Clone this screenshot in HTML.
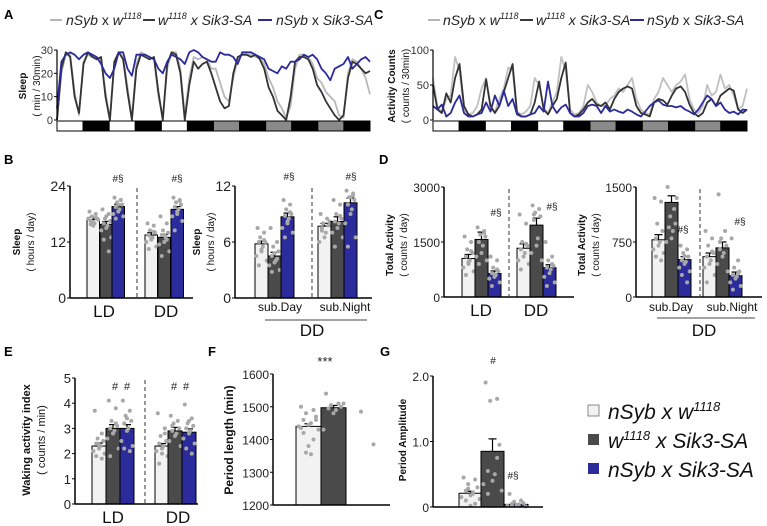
<!DOCTYPE html>
<html><head><meta charset="utf-8">
<style>
html,body{margin:0;padding:0;background:#fff;}
svg{display:block;font-family:"Liberation Sans",Arial,sans-serif;}
</style></head>
<body>
<svg id="fig" width="767" height="526" viewBox="0 0 767 526" xmlns="http://www.w3.org/2000/svg">
<g font-weight="bold" font-size="13" fill="#000">
<text x="4" y="19">A</text>
<text x="4" y="164">B</text>
<text x="374" y="19">C</text>
<text x="379" y="164">D</text>
<text x="4" y="356">E</text>
<text x="208" y="356">F</text>
<text x="380" y="356">G</text>
</g>
<g id="legA" font-size="14" font-style="italic" fill="#222">
<line x1="50" y1="20" x2="62" y2="20" stroke="#b5b5b5" stroke-width="2"/>
<text x="66" y="25">nSyb <tspan font-style="normal">x</tspan> w<tspan font-size="9" dy="-6">1118</tspan></text>
<line x1="143" y1="20" x2="155" y2="20" stroke="#3a3a3a" stroke-width="2"/>
<text x="158" y="25">w<tspan font-size="9" dy="-6">1118</tspan><tspan dy="6"> x Sik3-SA</tspan></text>
<line x1="258" y1="20" x2="272" y2="20" stroke="#2b2b9b" stroke-width="2"/>
<text x="276" y="25">nSyb <tspan font-style="normal">x</tspan> Sik3-SA</text>
</g>
<g id="legC" font-size="14" font-style="italic" fill="#222">
<line x1="428" y1="20" x2="440" y2="20" stroke="#b5b5b5" stroke-width="2"/>
<text x="443" y="25">nSyb <tspan font-style="normal">x</tspan> w<tspan font-size="9" dy="-6">1118</tspan></text>
<line x1="520" y1="20" x2="533" y2="20" stroke="#3a3a3a" stroke-width="2"/>
<text x="536" y="25">w<tspan font-size="9" dy="-6">1118</tspan><tspan dy="6"> x Sik3-SA</tspan></text>
<line x1="630" y1="20" x2="644" y2="20" stroke="#2b2b9b" stroke-width="2"/>
<text x="647" y="25">nSyb <tspan font-style="normal">x</tspan> Sik3-SA</text>
</g>
<g id="legG" font-size="21" font-style="italic" fill="#111">
<rect x="588" y="405" width="11" height="11" fill="#f2f2f2" stroke="#888"/>
<text x="608" y="419">nSyb x w<tspan font-size="13" dy="-8">1118</tspan></text>
<rect x="588" y="434" width="11" height="11" fill="#4a4a4a"/>
<text x="608" y="448">w<tspan font-size="13" dy="-8">1118</tspan><tspan dy="8"> x Sik3-SA</tspan></text>
<rect x="588" y="463" width="11" height="11" fill="#2b2b9b"/>
<text x="608" y="477">nSyb x Sik3-SA</text>
</g>
</svg>
<script>
const NS="http://www.w3.org/2000/svg";
const svg=document.getElementById('fig');
// ---- time series data (12 segments x 6 points) ----
const sleepGray=[0,20,28,28,12,2, 25,28,27,27,26,12, 0,24,29,27,14,1, 24,29,28,27,26,10, 1,22,29,29,22,2, 18,27,26,27,26,22, 22,16,10,8,18,26, 28,28,28,27,27,24, 18,14,8,5,1,6, 22,28,28,27,24,18, 16,12,10,8,2,1, 20,26,25,22,18,11];
const sleepDark=[0,22,29,27,10,3, 24,29,27,26,27,10, 0,25,29,26,12,0, 22,28,27,26,27,12, 0,24,29,28,20,0, 15,25,22,24,25,20, 14,8,5,6,20,27, 28,28,27,28,26,22, 14,10,4,2,0,10, 25,27,27,26,22,15, 12,8,5,2,0,2, 18,25,24,22,20,21];
const sleepBlue=[5,25,28,29,28,26, 28,29,28,27,24,20, 18,22,29,29,22,19, 28,28,28,27,26,22, 20,25,28,27,26,24, 29,30,29,27,26,25, 25,29,28,28,27,24, 29,29,29,28,27,26, 22,21,20,23,22,25, 25,26,28,27,28,26, 22,20,17,22,23,24, 27,22,24,26,27,25];
const actGray=[60,20,10,30,35,90, 70,15,8,10,20,45, 60,15,12,30,45,75, 70,12,8,12,20,60, 50,18,10,25,40,90, 70,15,8,10,20,50, 40,25,20,20,30,35, 45,40,50,60,30,15, 10,8,30,40,60,50, 40,50,55,65,30,15, 10,20,50,35,40,65, 45,50,35,15,20,45];
const actDark=[50,15,10,38,25,60, 80,20,8,5,8,15, 58,20,10,20,40,60, 80,10,5,5,8,25, 55,15,8,20,30,60, 82,10,5,8,15,25, 30,22,20,25,15,30, 40,45,48,45,20,10, 8,5,25,30,28,22, 35,45,48,40,22,10, 5,10,25,30,20,35, 40,45,42,15,10,15];
const actBlue=[20,15,22,5,10,25, 35,10,5,5,8,10, 25,12,35,20,42,20, 30,8,5,5,8,10, 20,12,55,20,10,18, 22,10,5,5,10,20, 22,20,10,20,12,15, 12,10,15,12,8,5, 12,20,25,28,22,20, 20,18,20,15,12,8, 15,25,35,30,20,25, 15,10,12,8,15,14];
const lightPhases=['L','D','L','D','L','D','S','D','S','D','S','D'];
const sleepTicks=[0,10,20,30];
const actTicks=[0,50,100];

function el(tag,attrs,parent){const e=document.createElementNS(NS,tag);for(const k in attrs)e.setAttribute(k,attrs[k]);(parent||svg).appendChild(e);return e;}
function txt(s,attrs,parent){const t=el('text',attrs,parent);t.textContent=s;return t;}

function timeSeries(name,x0,x1,yTop,yBot,max,ticks,series,cols){
  const g=el('g',{});
  
  
  const n=series[0].length;
  const xs=i=>x0+(x1-x0)*i/(n-1);
  const ys=v=>yBot-(yBot-yTop)*v/max;
  series.forEach((s,k)=>{
    const p=el('polyline',{points:s.map((v,i)=>xs(i).toFixed(1)+','+ys(v).toFixed(1)).join(' '),fill:'none',stroke:cols[k],'stroke-width':1.8,'stroke-linejoin':'round'},g);
    
    
  });
  el('line',{x1:x0,y1:yTop,x2:x0,y2:yBot,stroke:'#000','stroke-width':1.2},g);
  ticks.forEach(t=>{
    el('line',{x1:x0-3,y1:ys(t),x2:x0,y2:ys(t),stroke:'#000'},g);
    const tl=txt(String(t),{x:x0-4,y:ys(t)+4,'font-size':11,'text-anchor':'end',fill:'#333'},g);
    
    
  });
  const w=(x1-x0)/lightPhases.length;
  lightPhases.forEach((ph,i)=>{
    const r=el('rect',{x:x0+i*w,y:yBot+1,width:w,height:10,fill:ph==='L'?'#fff':ph==='S'?'#8a8a8a':'#000',stroke:'#000','stroke-width':1},g);
    
    
  });
}
timeSeries('sleep-timeseries',57,370,50,120,30,sleepTicks,[sleepGray,sleepDark,sleepBlue],['#b8b8b8','#333','#2b2b9b']);
timeSeries('activity-timeseries',433,747,50,120,100,actTicks,[actGray,actDark,actBlue],['#c0c0c0','#333','#2b2b9b']);
function yTitle(lines,x,y,size,parent){
  lines.forEach((s,i)=>{const t=txt(s,{x:x+i*(size+4),y:y,'font-size':size,'font-weight':i===0?'bold':'normal','text-anchor':'middle',transform:`rotate(-90 ${x+i*(size+4)} ${y})`,fill:'#111'},parent);
  
  });
}
yTitle(['Sleep','( min / 30min)'],26,86,10);
yTitle(['Activity Counts','( counts / 30min)'],395,86,10);

// ---- bar chart data ----
const b1Vals=[16.8,15.8,19.6,13.5,13.0,19.0];
const b1Sem=[0.5,0.6,0.5,0.5,0.6,0.6];
const b1Dots=[[18.5,18,17.5,17,16.5,16,15.5,17,16.8,15.8,17.2,16.2],[19,18,17,16.5,16,15.5,15,14.5,13,12.5,10,17.5],[21.5,21,20.5,20,19.5,19,18.5,18,17.5,17,21,20],[16,15.5,14.5,14,13.5,13,12.5,12,11,10.5,14.2,13],[17.5,16,14.5,14,13.5,13,12,11.5,10,9,12.5,13.5],[21.5,21,20.5,20,19.5,19,18,17.5,16.5,14.5,20.8,18.5]];
const b1Ticks=[0,12,24];
const b2Vals=[5.8,4.5,8.7,7.7,8.2,10.2];
const b2Sem=[0.3,0.4,0.4,0.3,0.5,0.5];
const b2Dots=[[7.5,7,6.5,6,6,5.5,5,4.5,4,3.5,6.2,5.2],[7.5,6,5.5,5,4.5,4,3.8,3.5,3,2.8,4.2,4.8],[10.5,10,9.5,9,8.8,8.5,8,7.5,7,6.5,9.2,8.2],[9,8.5,8,7.8,7.5,7,6.5,6,8.2,7.2],[10.5,10,9,8.5,8.2,8,7.5,7,6.5,5.5,8.8],[11.5,11,10.8,10.5,10,9.5,9,8,6.5,5.5,11.2,10.8]];
const b2Ticks=[0,6,12];
const d1Vals=[1050,1570,640,1330,1960,800];
const d1Sem=[110,200,70,120,190,80];
const d1Dots=[[1650,1500,1300,1200,1100,1000,900,800,700,600,1250,950],[1900,1800,1700,1650,1500,1400,1200,1100,1000,900,1750],[1100,1000,800,700,650,600,550,500,400,300,750,620],[2250,2000,1500,1400,1300,1200,1100,1000,900,750,1450],[2500,2400,2300,2200,2100,1600,1400,1200,1000,2250],[1500,1100,1000,850,800,750,650,550,400,300,900]];
const d1Ticks=[0,1500,3000];
const d2Vals=[780,1290,510,550,670,290];
const d2Sem=[70,90,40,50,80,50];
const d2Dots=[[1350,1300,1000,900,800,750,700,650,600,550,500],[1500,1200,1100,1000,950,900,800,750,1350],[700,650,600,550,500,480,450,400,350,300,200,560],[900,800,700,600,550,500,450,400,300,200,620],[1400,900,800,700,650,600,550,450,350,750],[800,500,400,350,300,280,250,200,150,100,320]];
const d2Ticks=[0,750,1500];
const eVals=[2.3,3.0,3.0,2.3,2.9,2.85];
const eSem=[0.12,0.15,0.15,0.1,0.14,0.13];
const eDots=[[3.7,2.8,2.6,2.5,2.4,2.3,2.2,2.1,2,1.9,1.8,2.35],[4.1,3.8,3.3,3.1,3,2.9,2.8,2.6,2.2,1.9,3.2],[4.1,3.7,3.5,3.3,3.2,3,2.9,2.5,2.3,2.2,2.1,3.4],[3.6,3.0,2.7,2.5,2.4,2.3,2.2,2.1,1.9,1.6,2.8,2.0],[3.5,3.3,3.2,3,2.9,2.8,2.7,2.5,2.3,3.1],[3.95,3.4,3.2,3.1,3,2.9,2.8,2.6,2.4,2.2,2,3.3]];
const eTicks=[0,1,2,3,4,5];
const fVals=[1440,1497,null];
const fSem=[8,7,0];
const fDots=[[1500,1490,1480,1470,1460,1450,1445,1440,1430,1420,1400,1380,1360,1355,1460,1435],[1540,1510,1505,1500,1495,1490,1480,1430,1510],[1485,1385]];
const fTicks=[1200,1300,1400,1500,1600];
const gVals=[0.21,0.85,0.04];
const gSem=[0.03,0.19,0.01];
const gDots=[[0.45,0.42,0.35,0.3,0.25,0.2,0.18,0.15,0.12,0.1,0.05,0.02,0.28,0.22],[1.9,1.65,1.62,0.95,0.55,0.5,0.4,0.35,0.25,0.2,0.75],[0.2,0.1,0.08,0.06,0.05,0.04,0.03,0.02,0.01,0.02]];
const gTicks=['0','1.0','2.0'];

const COLS=['#f2f2f2','#4a4a4a','#2b2b9b'];
const JIT=[-3,2,-1,3,-2,1,0,-4,4,-2,2,0,-1,1,3,-3];
function barChart(c){
  const g=el('g',{});
  
  
  const ys=v=>c.yBot-(c.yBot-c.yTop)*(v-c.min)/(c.max-c.min);
  c.vals.forEach((v,i)=>{
    const x=c.barX[i],w=c.barW;
    if(v!==null){
      const top=ys(v+c.sem[i]);
      el('line',{x1:x+w/2,y1:ys(v),x2:x+w/2,y2:top,stroke:'#000','stroke-width':1.2},g);
      el('line',{x1:x+w/2-4,y1:top,x2:x+w/2+4,y2:top,stroke:'#000','stroke-width':1.2},g);
      const r=el('rect',{x:x,y:ys(v),width:w,height:c.yBot-ys(v),fill:COLS[i%3],stroke:'#000','stroke-width':1},g);
      
      
    }
    c.dots[i].forEach((d,j)=>{
      const ci=el('circle',{cx:x+w/2+JIT[j%JIT.length]*w/10,cy:ys(d),r:2,fill:'#a8a8a8'},g);
      
      
    });
  });
  el('line',{x1:c.x0,y1:c.yTop,x2:c.x0,y2:c.yBot,stroke:'#000','stroke-width':1.5},g);
  el('line',{x1:c.x0,y1:c.yBot,x2:c.x1,y2:c.yBot,stroke:'#000','stroke-width':1.5},g);
  c.ticks.forEach(t=>{
    const v=parseFloat(t);
    el('line',{x1:c.x0-3,y1:ys(v),x2:c.x0,y2:ys(v),stroke:'#000'},g);
    const tl=txt(String(t),{x:c.x0-4,y:ys(v)+5,'font-size':c.tf||14,'text-anchor':'end',fill:'#222'},g);
    
    
  });
  if(c.dash) el('line',{x1:c.dash,y1:c.yTop+2,x2:c.dash,y2:c.yBot,stroke:'#333','stroke-dasharray':'4,3'},g);
  (c.labels||[]).forEach(l=>{const t=txt(l[0],{x:l[1],y:l[2],'font-size':l[3],'text-anchor':'middle',fill:'#111'},g);
    
    });
  (c.marks||[]).forEach(l=>{const t=txt(l[0],{x:l[1],y:l[2],'font-size':l[3]||10,'text-anchor':'middle',fill:'#222'},g);
    
    });
  if(c.under) el('line',{x1:c.under[0],y1:c.under[2],x2:c.under[1],y2:c.under[2],stroke:'#444'},g);
  yTitle(c.title,c.tx,c.ty,c.ts||10,g);
}
barChart({name:'sleep-ld-dd',x0:70,x1:193,yTop:186,yBot:298,min:0,max:24,ticks:b1Ticks,vals:b1Vals,sem:b1Sem,dots:b1Dots,barX:[87,100,112,145,158,171],barW:12.5,dash:137,
 labels:[['LD',104,317,17],['DD',166,317,17]],marks:[['#§',118,182],['#§',177,182]],title:['Sleep','( hours / day)'],tx:20,ty:242});
barChart({name:'sleep-subjective',x0:235,x1:372,yTop:186,yBot:298,min:0,max:12,ticks:b2Ticks,vals:b2Vals,sem:b2Sem,dots:b2Dots,barX:[255,268,281,318,331,344],barW:13,dash:312,
 labels:[['sub.Day',280,311,12],['sub.Night',345,311,12],['DD',312,336,17]],under:[265,367,320],marks:[['#§',289,180],['#§',351,180]],title:['Sleep','( hours / day)'],tx:200,ty:242});
barChart({name:'activity-ld-dd',x0:444,x1:574,yTop:187,yBot:297,min:0,max:3000,ticks:d1Ticks,vals:d1Vals,sem:d1Sem,dots:d1Dots,barX:[462,475,488,517,530,543],barW:13,dash:509,tf:12,
 labels:[['LD',481,316,17],['DD',536,316,17]],marks:[['#§',496,216],['#§',552,210]],title:['Total Activity','( counts / day)'],tx:393,ty:245});
barChart({name:'activity-subjective',x0:636,x1:762,yTop:187,yBot:297,min:0,max:1500,ticks:d2Ticks,vals:d2Vals,sem:d2Sem,dots:d2Dots,barX:[652,665,678,703,716,729],barW:13,dash:700,tf:12,
 labels:[['sub.Day',671,311,12],['sub.Night',732,311,12],['DD',704,336,17]],under:[657,755,318],marks:[['#§',683,233],['#§',740,225]],title:['Total Activity','( counts / day)'],tx:585,ty:245});
barChart({name:'waking-activity',x0:75,x1:198,yTop:378,yBot:504,min:0,max:5,ticks:eTicks,vals:eVals,sem:eSem,dots:eDots,barX:[92,106,120,155,168,182],barW:14,dash:145,tf:13,
 labels:[['LD',113,523,17],['DD',178,523,17]],marks:[['#',115,390,11],['#',127,390,11],['#',174,390,11],['#',186,390,11]],title:['Waking activity index','( counts / min)'],tx:30,ty:440,ts:11});
barChart({name:'period-length',x0:273,x1:390,yTop:374,yBot:505,min:1200,max:1600,ticks:fTicks,vals:fVals,sem:fSem,dots:fDots,barX:[296,321,356],barW:25,tf:12,
 marks:[['***',325,366,13]],title:['Period length (min)'],tx:233,ty:440,ts:12});
barChart({name:'period-amplitude',x0:433,x1:543,yTop:376,yBot:507,min:0,max:2,ticks:gTicks,vals:gVals,sem:gSem,dots:gDots,barX:[459,481,505],barW:23,tf:12,
 marks:[['#',493,364],['#§',513,479]],title:['Period Amplitude'],tx:406,ty:440});
</script>
</body></html>
